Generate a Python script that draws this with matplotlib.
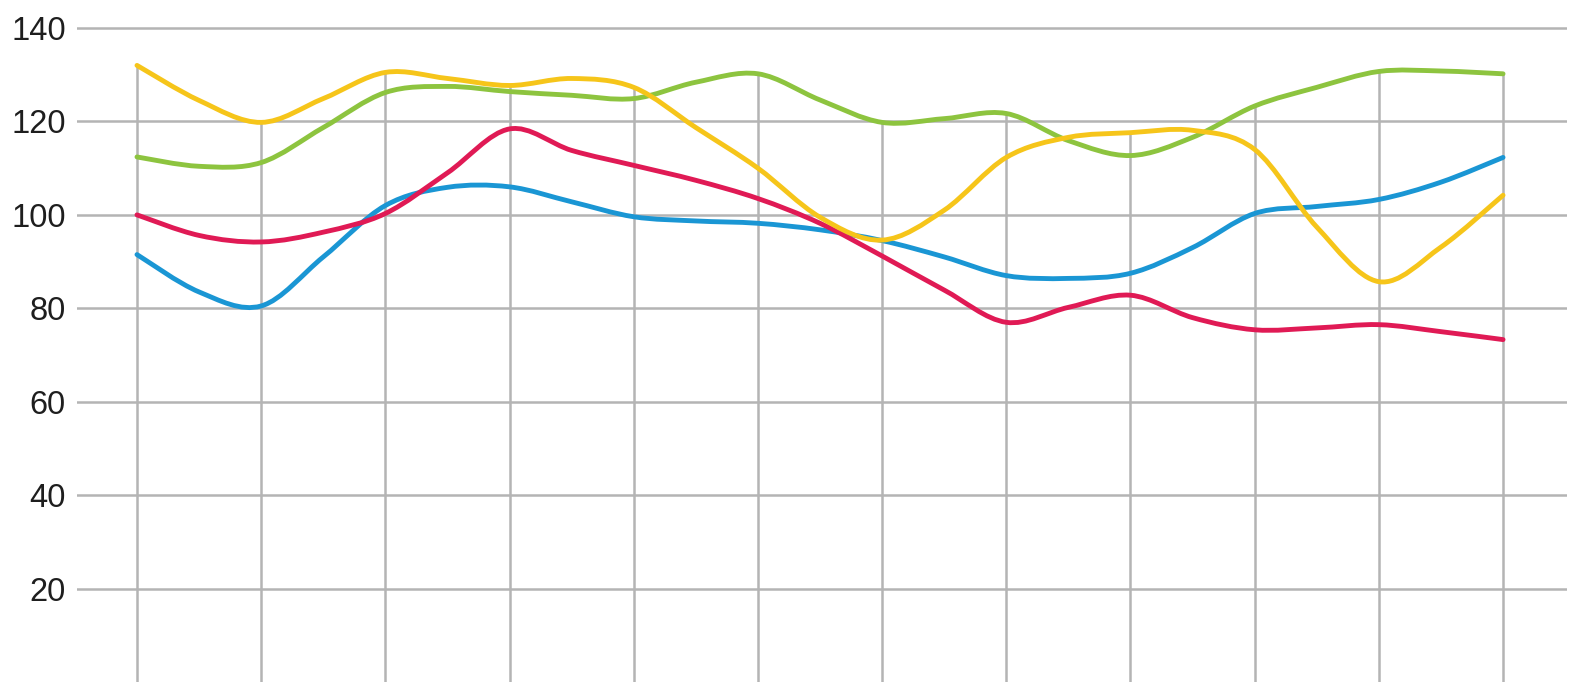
import numpy as np
import matplotlib
matplotlib.use('Agg')
import matplotlib.pyplot as plt
from matplotlib.path import Path
from matplotlib.patches import PathPatch

plt.rcParams['font.family'] = ['Liberation Sans', 'DejaVu Sans']

# readings taken every half step along the x axis
x_steps = np.arange(0, 11.5, 0.5)

blue = [91.5, 83.5, 80.5, 91, 102, 105.9, 106, 102.8, 99.6, 98.7, 98.2, 96.8,
        94.5, 91, 87, 86.4, 87.5, 93, 100.3, 101.8, 103.3, 107, 112.3]
red = [100, 95.6, 94.2, 96.3, 100.3, 109, 118.4, 113.8, 110.6, 107.4, 103.5, 98.2,
       91.2, 83.9, 77, 80.2, 82.8, 78, 75.4, 75.8, 76.5, 75, 73.3]
green = [112.4, 110.4, 111.2, 118.7, 126.2, 127.5, 126.4, 125.6, 124.9, 128.4, 130.2, 124.6,
         119.8, 120.6, 121.7, 115.9, 112.7, 116.6, 123.3, 127.3, 130.7, 130.8, 130.2]
yellow = [132, 124.5, 119.8, 124.9, 130.5, 129.2, 127.7, 129.2, 127.3, 118.7, 110, 99.5,
          94.6, 101, 112.3, 116.6, 117.6, 118.1, 114, 97.4, 85.7, 93.1, 104.2]

series = [
    (blue, '#1a96d4'),
    (red, '#e01a55'),
    (green, '#8dc43f'),
    (yellow, '#f6c51a'),
]

y_ticks = [20, 40, 60, 80, 100, 120, 140]
grid_col = '#b4b4b4'


def spline_path(xs, ys, k=0.5):
    # cardinal spline through the readings, drawn as cubic bezier segments
    pts = np.column_stack([xs, ys]).astype(float)
    n = len(pts)
    verts = [pts[0]]
    codes = [Path.MOVETO]
    for i in range(n - 1):
        p0 = pts[max(i - 1, 0)]
        p1 = pts[i]
        p2 = pts[i + 1]
        p3 = pts[min(i + 2, n - 1)]
        c1 = p1 + (p2 - p0) * k / 3
        c2 = p2 - (p3 - p1) * k / 3
        verts += [c1, c2, p2]
        codes += [Path.CURVE4] * 3
    return Path(verts, codes)


fig = plt.figure(figsize=(15.76, 6.83), dpi=100)
ax = fig.add_axes([77 / 1576, 1 / 683, 1490 / 1576, 682 / 683])

ax.set_xlim(-0.483, 11.515)
ax.set_ylim(0, 146)

# horizontal grid
for t in y_ticks:
    ax.axhline(t, color=grid_col, lw=1.8, zorder=1)

# drop lines from the highest series down to the base at every whole step
whole = x_steps[::2]
top = np.max(np.array([s for s, _ in series]), axis=0)[::2]
ax.vlines(whole, 0, top, color=grid_col, lw=1.8, zorder=1)

for vals, col in series:
    ax.add_patch(PathPatch(spline_path(x_steps, vals), facecolor='none',
                           edgecolor=col, lw=3.5, zorder=3,
                           joinstyle='round', capstyle='round'))

ax.set_yticks(y_ticks)
ax.set_yticklabels([str(t) for t in y_ticks], fontsize=23.5, color='#1e1e1e')
ax.tick_params(axis='y', length=0, pad=8)
ax.set_xticks([])
for sp in ax.spines.values():
    sp.set_visible(False)

fig.savefig('out.png', dpi=100)
